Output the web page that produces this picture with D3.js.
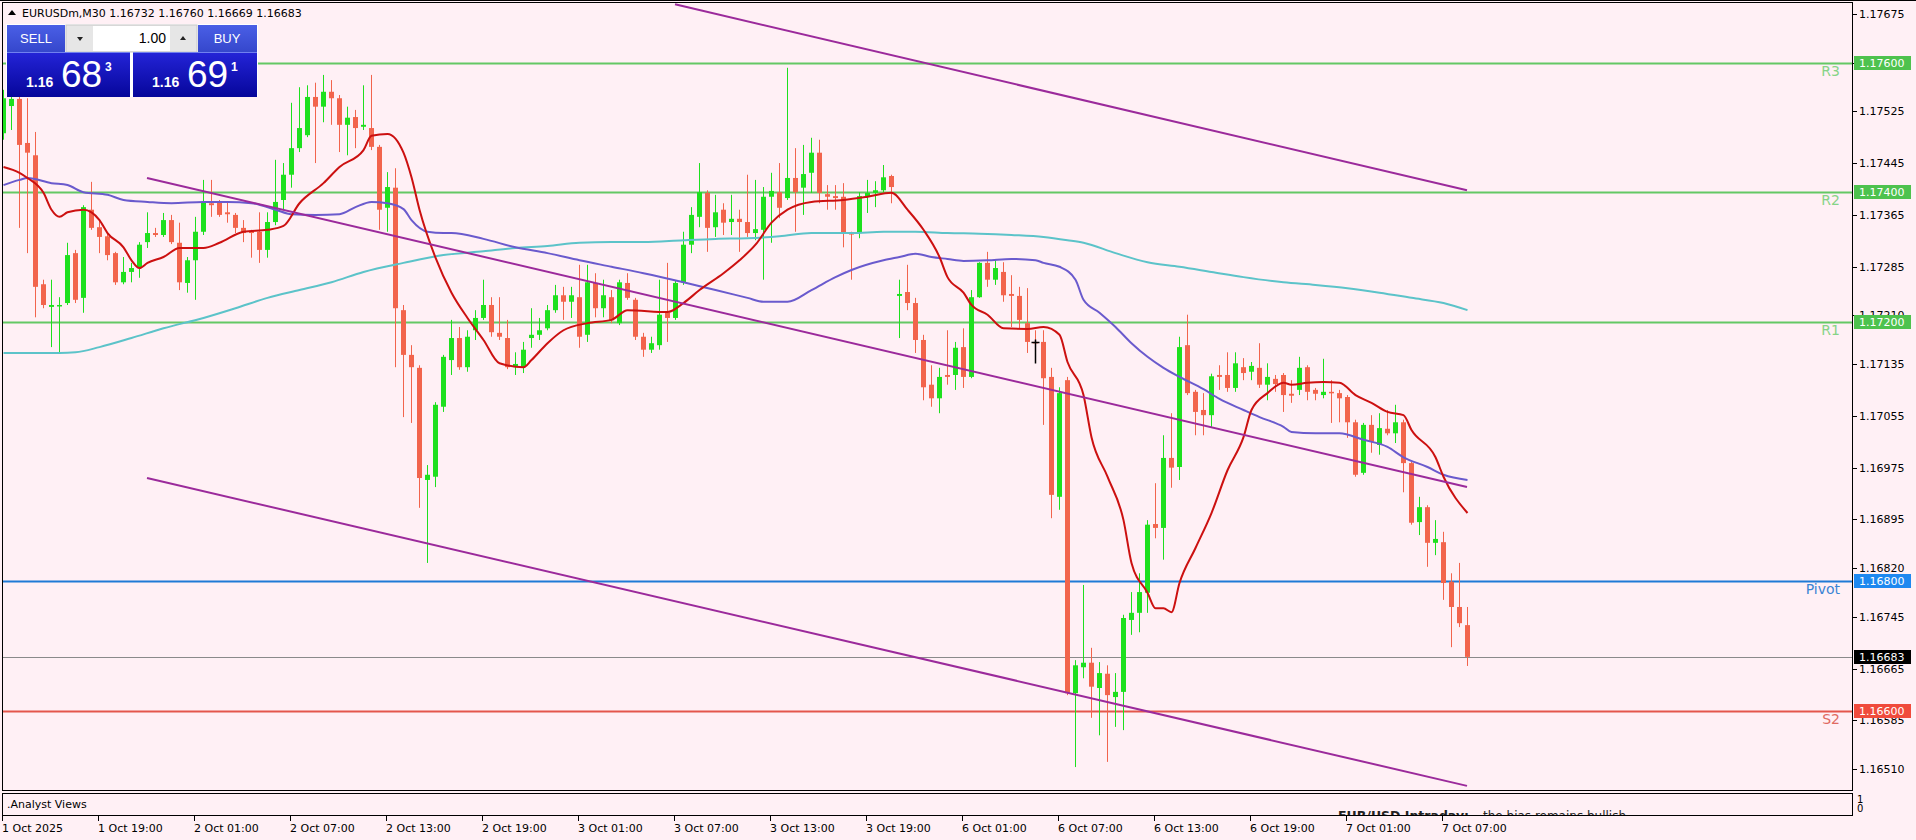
<!DOCTYPE html>
<html><head><meta charset="utf-8">
<script src="https://cdn.jsdelivr.net/npm/d3@7"></script>
<style>
html,body{margin:0;padding:0;background:#fff0f5;overflow:hidden}
svg{display:block}
</style></head><body>
<svg id="c" width="1916" height="840"></svg>
<script>
// ---------------- DATA ----------------
const symbolTitle = "EURUSDm,M30";
const lastOHLC = ["1.16732","1.16760","1.16669","1.16683"];

const open = [1.17491,1.17533,1.17544,1.17476,1.17457,1.17258,1.17223,1.17224,1.17229,1.17306,
1.17237,1.17373,1.17346,1.17332,1.17306,1.17261,1.17277,1.17283,1.17323,1.17337,
1.17334,1.17357,1.17322,1.17260,1.17295,1.17339,1.17383,1.17385,1.17369,1.17365,
1.17345,1.17340,1.17339,1.17311,1.17354,1.17388,1.17427,1.17468,1.17488,1.17547,
1.17532,1.17555,1.17545,1.17504,1.17516,1.17501,1.17499,1.17470,1.17376,1.17407,
1.17218,1.17149,1.17129,1.16956,1.16961,1.17069,1.17141,1.17175,1.17130,1.17187,
1.17206,1.17226,1.17183,1.17175,1.17130,1.17130,1.17175,1.17180,1.17190,1.17218,
1.17241,1.17231,1.17238,1.17180,1.17260,1.17221,1.17238,1.17198,1.17260,1.17234,
1.17177,1.17157,1.17164,1.17214,1.17206,1.17261,1.17319,1.17362,1.17399,1.17346,
1.17373,1.17354,1.17359,1.17354,1.17337,1.17342,1.17393,1.17400,1.17391,1.17422,
1.17407,1.17430,1.17461,1.17397,1.17394,1.17393,1.17337,1.17337,1.17393,1.17399,
1.17403,1.17425,1.17240,1.17246,1.17229,1.17172,1.17103,1.17082,1.17118,1.17118,
1.17161,1.17115,1.17238,1.17291,1.17265,1.17277,1.17243,1.17240,1.17198,1.17169,
1.17169,1.17115,1.16930,1.17110,1.16627,1.16667,1.16674,1.16635,1.16657,1.16621,
1.16629,1.16740,1.16751,1.16782,1.16888,1.16882,1.16990,1.16976,1.17164,1.17092,
1.17064,1.17056,1.17118,1.17118,1.17098,1.17130,1.17123,1.17129,1.17103,1.17112,
1.17118,1.17089,1.17095,1.17130,1.17095,1.17087,1.17092,1.17090,1.17084,1.17045,
1.16967,1.17041,1.17010,1.17035,1.17028,1.17045,1.16982,1.16891,1.16914,1.16859,
1.16860,1.16799,1.16760,1.16732];
const high = [1.17558,1.17547,1.17550,1.17545,1.17493,1.17265,1.17265,1.17238,1.17322,1.17311,
1.17380,1.17416,1.17357,1.17336,1.17308,1.17300,1.17291,1.17323,1.17369,1.17345,
1.17368,1.17365,1.17353,1.17300,1.17362,1.17419,1.17419,1.17388,1.17385,1.17368,
1.17357,1.17342,1.17369,1.17369,1.17450,1.17445,1.17538,1.17562,1.17565,1.17569,
1.17581,1.17573,1.17550,1.17532,1.17527,1.17565,1.17581,1.17473,1.17431,1.17437,
1.17226,1.17164,1.17133,1.16979,1.17076,1.17149,1.17203,1.17192,1.17187,1.17218,
1.17265,1.17238,1.17238,1.17203,1.17153,1.17169,1.17221,1.17206,1.17226,1.17257,
1.17254,1.17254,1.17288,1.17288,1.17275,1.17265,1.17249,1.17265,1.17275,1.17237,
1.17183,1.17177,1.17265,1.17291,1.17263,1.17339,1.17377,1.17445,1.17403,1.17396,
1.17383,1.17396,1.17373,1.17427,1.17419,1.17408,1.17430,1.17445,1.17592,1.17468,
1.17473,1.17484,1.17481,1.17411,1.17411,1.17414,1.17339,1.17400,1.17419,1.17417,
1.17442,1.17427,1.17265,1.17288,1.17237,1.17180,1.17133,1.17129,1.17187,1.17169,
1.17190,1.17249,1.17292,1.17308,1.17295,1.17292,1.17272,1.17254,1.17252,1.17187,
1.17187,1.17129,1.17099,1.17115,1.16678,1.16794,1.16697,1.16675,1.16670,1.16658,
1.16748,1.16783,1.16812,1.16894,1.16951,1.17025,1.17059,1.17177,1.17211,1.17095,
1.17090,1.17120,1.17133,1.17153,1.17153,1.17144,1.17138,1.17167,1.17136,1.17118,
1.17121,1.17110,1.17146,1.17133,1.17098,1.17143,1.17110,1.17095,1.17087,1.17049,
1.17044,1.17056,1.17059,1.17064,1.17072,1.17049,1.16984,1.16930,1.16917,1.16894,
1.16876,1.16812,1.16828,1.16760];
const low = [1.17481,1.17496,1.17345,1.17306,1.17207,1.17221,1.17161,1.17152,1.17226,1.17229,
1.17214,1.17342,1.17306,1.17295,1.17257,1.17258,1.17261,1.17268,1.17314,1.17331,
1.17331,1.17320,1.17249,1.17245,1.17234,1.17334,1.17362,1.17362,1.17353,1.17337,
1.17323,1.17299,1.17291,1.17299,1.17349,1.17373,1.17407,1.17462,1.17485,1.17445,
1.17508,1.17504,1.17462,1.17457,1.17468,1.17496,1.17465,1.17342,1.17339,1.17130,
1.17053,1.17044,1.16913,1.16828,1.16945,1.17061,1.17118,1.17126,1.17123,1.17172,
1.17203,1.17177,1.17172,1.17127,1.17118,1.17121,1.17160,1.17172,1.17187,1.17214,
1.17203,1.17206,1.17160,1.17169,1.17207,1.17207,1.17198,1.17195,1.17234,1.17172,
1.17146,1.17152,1.17157,1.17169,1.17203,1.17257,1.17306,1.17346,1.17308,1.17331,
1.17334,1.17334,1.17308,1.17331,1.17326,1.17265,1.17322,1.17360,1.17388,1.17339,
1.17365,1.17399,1.17383,1.17373,1.17373,1.17315,1.17265,1.17329,1.17368,1.17377,
1.17400,1.17383,1.17175,1.17218,1.17152,1.17079,1.17069,1.17059,1.17103,1.17095,
1.17098,1.17113,1.17237,1.17254,1.17257,1.17231,1.17192,1.17190,1.17152,1.17141,
1.17041,1.16897,1.16910,1.16624,1.16513,1.16650,1.16589,1.16562,1.16521,1.16575,
1.16570,1.16717,1.16721,1.16751,1.16866,1.16833,1.16944,1.16956,1.17087,1.17025,
1.17025,1.17038,1.17095,1.17092,1.17092,1.17110,1.17110,1.17098,1.17079,1.17092,
1.17061,1.17075,1.17087,1.17079,1.17079,1.17082,1.17044,1.17045,1.17021,1.16961,
1.16964,1.16998,1.16995,1.17025,1.17013,1.16937,1.16887,1.16871,1.16822,1.16840,
1.16771,1.16698,1.16729,1.16669];
const close = [1.17545,1.17544,1.17473,1.17461,1.17254,1.17226,1.17226,1.17226,1.17303,1.17234,
1.17377,1.17345,1.17331,1.17303,1.17261,1.17277,1.17283,1.17319,1.17337,1.17334,
1.17357,1.17323,1.17261,1.17295,1.17339,1.17385,1.17380,1.17365,1.17366,1.17345,
1.17337,1.17337,1.17311,1.17354,1.17385,1.17427,1.17468,1.17499,1.17547,1.17532,
1.17555,1.17545,1.17504,1.17515,1.17499,1.17504,1.17470,1.17373,1.17408,1.17221,
1.17149,1.17130,1.16959,1.16964,1.17072,1.17146,1.17175,1.17130,1.17177,1.17206,
1.17226,1.17184,1.17177,1.17130,1.17135,1.17157,1.17180,1.17187,1.17218,1.17241,
1.17231,1.17241,1.17177,1.17261,1.17221,1.17241,1.17203,1.17261,1.17237,1.17177,
1.17157,1.17167,1.17211,1.17206,1.17260,1.17319,1.17365,1.17400,1.17345,1.17369,
1.17353,1.17359,1.17354,1.17337,1.17343,1.17393,1.17402,1.17376,1.17422,1.17400,
1.17428,1.17461,1.17399,1.17393,1.17391,1.17337,1.17336,1.17394,1.17399,1.17403,
1.17423,1.17408,1.17243,1.17229,1.17172,1.17099,1.17082,1.17115,1.17115,1.17160,
1.17115,1.17238,1.17291,1.17265,1.17283,1.17241,1.17240,1.17203,1.17169,1.17167,
1.17113,1.16933,1.17090,1.16627,1.16670,1.16674,1.16637,1.16658,1.16624,1.16629,
1.16743,1.16751,1.16783,1.16887,1.16882,1.16990,1.16975,1.17161,1.17090,1.17061,
1.17056,1.17116,1.17115,1.17098,1.17136,1.17121,1.17132,1.17103,1.17115,1.17104,
1.17087,1.17086,1.17129,1.17092,1.17089,1.17092,1.17090,1.17082,1.17045,1.16964,
1.17041,1.17015,1.17036,1.17028,1.17045,1.16982,1.16890,1.16914,1.16859,1.16865,
1.16797,1.16760,1.16735,1.16683];

// moving averages: [bar index, value]
const maFast = [[0,1.17439],[2,1.17430],[3,1.17422],[5,1.17399],[6,1.17373],[7,1.17362],[8,1.17369],[10,1.17373],[11,1.17369],[12,1.17357],[13,1.17337],[15,1.17315],[16,1.17295],[17,1.17283],[18,1.17291],[20,1.17300],[22,1.17314],[25,1.17314],[27,1.17322],[30,1.17339],[33,1.17342],[35,1.17348],[37,1.17383],[40,1.17414],[42,1.17439],[45,1.17465],[46,1.17487],[48,1.17490],[50,1.17461],[51,1.17423],[52,1.17373],[54,1.17299],[56,1.17245],[58,1.17206],[60,1.17172],[62,1.17136],[65,1.17130],[66,1.17141],[68,1.17167],[70,1.17187],[73,1.17198],[76,1.17203],[78,1.17218],[83,1.17215],[85,1.17229],[87,1.17249],[90,1.17275],[92,1.17295],[94,1.17319],[96,1.17353],[98,1.17373],[101,1.17385],[105,1.17388],[108,1.17393],[111,1.17399],[113,1.17373],[115,1.17342],[117,1.17300],[118,1.17269],[120,1.17245],[121,1.17226],[123,1.17211],[125,1.17190],[128,1.17189],[130,1.17192],[132,1.17180],[133,1.17138],[135,1.17087],[136,1.17022],[138,1.16961],[140,1.16894],[141,1.16828],[143,1.16782],[144,1.16758],[145,1.16758],[146,1.16752],[147,1.16797],[149,1.16851],[151,1.16905],[153,1.16971],[155,1.17022],[156,1.17064],[158,1.17090],[160,1.17106],[161,1.17103],[163,1.17106],[165,1.17107],[167,1.17106],[169,1.17087],[171,1.17075],[173,1.17061],[175,1.17056],[176,1.17033],[179,1.16991],[180,1.16961],[183,1.16905]];
const maMid = [[0,1.17411],[2,1.17419],[3,1.17422],[6,1.17414],[8,1.17411],[10,1.17400],[13,1.17396],[15,1.17388],[18,1.17385],[21,1.17383],[25,1.17385],[28,1.17385],[31,1.17383],[34,1.17373],[36,1.17366],[39,1.17365],[42,1.17366],[44,1.17377],[46,1.17385],[48,1.17383],[50,1.17374],[51,1.17357],[53,1.17339],[55,1.17337],[56,1.17337],[60,1.17328],[64,1.17315],[68,1.17306],[72,1.17295],[76,1.17285],[80,1.17275],[85,1.17261],[89,1.17249],[93,1.17237],[95,1.17231],[98,1.17231],[101,1.17249],[104,1.17269],[106,1.17280],[110,1.17295],[112,1.17300],[114,1.17305],[116,1.17300],[118,1.17297],[120,1.17294],[123,1.17295],[126,1.17297],[129,1.17295],[130,1.17291],[132,1.17285],[134,1.17265],[135,1.17234],[137,1.17214],[139,1.17192],[141,1.17167],[143,1.17146],[145,1.17129],[147,1.17115],[150,1.17096],[152,1.17081],[155,1.17064],[157,1.17053],[160,1.17038],[161,1.17030],[164,1.17028],[167,1.17028],[170,1.17018],[173,1.17007],[175,1.16991],[178,1.16976],[180,1.16964],[183,1.16956]];
const maSlow = [[0,1.17152],[4,1.17152],[7,1.17152],[9,1.17153],[12,1.17161],[16,1.17175],[20,1.17190],[25,1.17206],[29,1.17221],[33,1.17237],[37,1.17249],[41,1.17261],[45,1.17277],[50,1.17291],[55,1.17303],[60,1.17309],[64,1.17314],[68,1.17317],[72,1.17322],[76,1.17323],[80,1.17323],[85,1.17326],[89,1.17328],[93,1.17329],[97,1.17332],[101,1.17337],[106,1.17337],[110,1.17339],[114,1.17339],[118,1.17337],[122,1.17336],[126,1.17334],[130,1.17331],[133,1.17326],[135,1.17322],[139,1.17306],[143,1.17292],[147,1.17285],[151,1.17277],[155,1.17269],[160,1.17261],[164,1.17257],[168,1.17252],[172,1.17245],[176,1.17237],[180,1.17229],[183,1.17218]];

// trend channel lines: [startIndex, startPrice, endIndex, endPrice]
const channelLines = [[84,1.17690,183,1.17403],[18,1.17422,183,1.16945],[18,1.16959,183,1.16484]];

// horizontal levels
const levelNames = ["R3","R2","R1","Pivot","S2"];
const levelPrices = [1.17600,1.17400,1.17200,1.16800,1.16600];
const currentPrice = 1.16683;

// mouse cursor position on the chart (bar index, price)
const cursorAt = [129, 1.17169];

const priceTicks = [1.17675,1.17600,1.17525,1.17445,1.17365,1.17285,1.17210,1.17135,1.17055,1.16975,1.16895,1.16820,1.16745,1.16665,1.16585,1.16510];
const timeLabels = ["1 Oct 2025","1 Oct 19:00","2 Oct 01:00","2 Oct 07:00","2 Oct 13:00","2 Oct 19:00","3 Oct 01:00","3 Oct 07:00","3 Oct 13:00","3 Oct 19:00","6 Oct 01:00","6 Oct 07:00","6 Oct 13:00","6 Oct 19:00","7 Oct 01:00","7 Oct 07:00"];
const timeLabelBars = [0,12,24,36,48,60,72,84,96,108,120,132,144,156,168,180];

const sellPrice = ["1.16","68","3"];
const buyPrice = ["1.16","69","1"];
const lotSize = "1.00";
const subTitle = ".Analyst Views";
const newsBold = "EUR/USD Intraday:";
const newsText = "the bias remains bullish.";

// ---------------- DRAW ----------------
const W = 1916, H = 840;
const plotL = 2, plotT = 2, plotR = 1852, plotB = 790;
const svg = d3.select("#c");
const FONT = "'DejaVu Sans', sans-serif";

const x = d3.scaleLinear().domain([0, 183]).range([3, 1467]);
const y = d3.scaleLinear().domain([1.17675, 1.16510]).range([14, 769]);

const defs = svg.append("defs");
defs.append("clipPath").attr("id","plotClip").append("rect")
  .attr("x",plotL+1).attr("y",plotT+1).attr("width",plotR-plotL-1).attr("height",plotB-plotT-1);
defs.append("clipPath").attr("id","subClip").append("rect")
  .attr("x",plotL+1).attr("y",794).attr("width",plotR-plotL-1).attr("height",21);

svg.append("rect").attr("width",W).attr("height",H).attr("fill","#fff0f5");

const plot = svg.append("g").attr("clip-path","url(#plotClip)");

// horizontal level lines
const levelColors = ["#64c864","#64c864","#64c864","#1f7ad6","#e4564c"];
plot.append("g").selectAll("line").data(levelPrices).join("line")
  .attr("x1",plotL).attr("x2",plotR)
  .attr("y1",d=>Math.round(y(d))+0.5).attr("y2",d=>Math.round(y(d))+0.5)
  .attr("stroke",(d,i)=>levelColors[i]).attr("stroke-width",2);
// current price line
plot.append("line").attr("x1",plotL).attr("x2",plotR)
  .attr("y1",Math.round(y(currentPrice))+0.5).attr("y2",Math.round(y(currentPrice))+0.5)
  .attr("stroke","#8a8a8a").attr("stroke-width",1);

// candles
const bull = "#1ee01e", bear = "#f2644c";
const idx = d3.range(open.length);
const cg = plot.append("g");
cg.selectAll("rect.w").data(idx).join("rect").attr("class","w")
  .attr("x",i=>x(i)).attr("width",1)
  .attr("y",i=>y(high[i])).attr("height",i=>Math.max(1,y(low[i])-y(high[i])))
  .attr("fill",i=>close[i]>=open[i]?bull:bear);
cg.selectAll("rect.b").data(idx).join("rect").attr("class","b")
  .attr("x",i=>x(i)-2).attr("width",5)
  .attr("y",i=>y(Math.max(open[i],close[i])))
  .attr("height",i=>Math.max(1.5,Math.abs(y(open[i])-y(close[i]))))
  .attr("fill",i=>close[i]>=open[i]?bull:bear);

// moving averages
const maLine = d3.line().x(d=>x(d[0])+0.5).y(d=>y(d[1])).curve(d3.curveMonotoneX);
plot.append("path").attr("d",maLine(maSlow)).attr("fill","none").attr("stroke","#5cc3c9").attr("stroke-width",2);
plot.append("path").attr("d",maLine(maMid)).attr("fill","none").attr("stroke","#6a5acd").attr("stroke-width",2);
plot.append("path").attr("d",maLine(maFast)).attr("fill","none").attr("stroke","#cc1010").attr("stroke-width",2);

// channel
plot.append("g").selectAll("line").data(channelLines).join("line")
  .attr("x1",d=>x(d[0])).attr("y1",d=>y(d[1])).attr("x2",d=>x(d[2])).attr("y2",d=>y(d[3]))
  .attr("stroke","#9b2a9b").attr("stroke-width",2);

// level text labels
const levelTextColors = ["#86d486","#86d486","#86d486","#3a84d4","#e06a62"];
plot.append("g").selectAll("text").data(levelNames).join("text")
  .attr("x",1840).attr("y",(d,i)=>Math.round(y(levelPrices[i]))+13)
  .attr("text-anchor","end").attr("font-family",FONT).attr("font-size",14)
  .attr("fill",(d,i)=>levelTextColors[i]).text(d=>d);

// mouse cursor
{
  const cx = Math.round(x(cursorAt[0])) + 0.5, cy = Math.round(y(cursorAt[1])) + 0.5;
  plot.append("line").attr("x1",cx).attr("x2",cx).attr("y1",cy-3).attr("y2",cy+21).attr("stroke","#000").attr("stroke-width",1.5);
  plot.append("line").attr("x1",cx-4).attr("x2",cx+4).attr("y1",cy).attr("y2",cy).attr("stroke","#000").attr("stroke-width",1.5);
}

// frames
svg.append("rect").attr("x",plotL+0.5).attr("y",plotT+0.5).attr("width",plotR-plotL).attr("height",plotB-plotT)
  .attr("fill","none").attr("stroke","#000").attr("stroke-width",1);
svg.append("rect").attr("x",plotL+0.5).attr("y",793.5).attr("width",plotR-plotL).attr("height",22)
  .attr("fill","none").attr("stroke","#000").attr("stroke-width",1);
svg.append("line").attr("x1",0).attr("x2",W).attr("y1",0.5).attr("y2",0.5).attr("stroke","#000");

// right price axis
const ax = svg.append("g");
ax.selectAll("line").data(priceTicks).join("line")
  .attr("x1",plotR).attr("x2",plotR+5).attr("y1",d=>Math.round(y(d))+0.5).attr("y2",d=>Math.round(y(d))+0.5)
  .attr("stroke","#000");
ax.selectAll("text").data(priceTicks).join("text")
  .attr("x",plotR+7).attr("y",d=>y(d)+4).attr("font-family",FONT).attr("font-size",11)
  .attr("fill","#000").text(d=>d.toFixed(5));

// price boxes
const boxColors = ["#4ec24e","#4ec24e","#4ec24e","#1e88f0","#f04b3c"];
const boxG = svg.append("g");
levelPrices.forEach((p,i)=>{
  const yy = Math.round(y(p));
  boxG.append("rect").attr("x",plotR+2).attr("y",yy-7).attr("width",57).attr("height",14).attr("fill",boxColors[i]);
  boxG.append("text").attr("x",plotR+7).attr("y",yy+4).attr("font-family",FONT).attr("font-size",11)
    .attr("fill","#fff").text(p.toFixed(5));
});
{
  const yy = Math.round(y(currentPrice));
  boxG.append("rect").attr("x",plotR+2).attr("y",yy-7).attr("width",57).attr("height",14).attr("fill","#000");
  boxG.append("text").attr("x",plotR+7).attr("y",yy+4).attr("font-family",FONT).attr("font-size",11)
    .attr("fill","#fff").text(currentPrice.toFixed(5));
}
// sub window axis
svg.append("text").attr("x",plotR+5).attr("y",803).attr("font-family",FONT).attr("font-size",10).text("1");
svg.append("text").attr("x",plotR+5).attr("y",812).attr("font-family",FONT).attr("font-size",10).text("0");

// time axis
const tx = svg.append("g");
tx.selectAll("line").data(timeLabelBars).join("line")
  .attr("x1",d=>x(d)-0.5).attr("x2",d=>x(d)-0.5).attr("y1",816).attr("y2",821).attr("stroke","#000");
tx.selectAll("text").data(timeLabels).join("text")
  .attr("x",(d,i)=>x(timeLabelBars[i])-1).attr("y",832).attr("font-family",FONT).attr("font-size",11)
  .attr("fill","#000").text(d=>d);

// sub window content
const sub = svg.append("g").attr("clip-path","url(#subClip)");
sub.append("text").attr("x",7).attr("y",808).attr("font-family",FONT).attr("font-size",11).text(subTitle);
sub.append("text").attr("x",1338).attr("y",820).attr("font-family",FONT).attr("font-size",12.5)
  .attr("font-weight","bold").attr("fill","#222").text(newsBold);
sub.append("text").attr("x",1483).attr("y",820).attr("font-family",FONT).attr("font-size",12)
  .attr("fill","#222").text(newsText);

// header
svg.append("path").attr("d","M8,15 L12,10 L16,15 Z").attr("fill","#000");
svg.append("text").attr("x",22).attr("y",17).attr("font-family",FONT).attr("font-size",11)
  .attr("fill","#000").text(symbolTitle + "  " + lastOHLC.join(" "));

// trade panel
const g1 = defs.append("linearGradient").attr("id","btnG").attr("x1",0).attr("y1",0).attr("x2",0).attr("y2",1);
g1.append("stop").attr("offset","0").attr("stop-color","#4a5fe6");
g1.append("stop").attr("offset","1").attr("stop-color","#3547cc");
const g2 = defs.append("linearGradient").attr("id","pxG").attr("x1",0).attr("y1",0).attr("x2",0).attr("y2",1);
g2.append("stop").attr("offset","0").attr("stop-color","#2424d8");
g2.append("stop").attr("offset","1").attr("stop-color","#06069a");
const tp = svg.append("g");
tp.append("rect").attr("x",6).attr("y",24).attr("width",252).attr("height",73).attr("fill","#fff");
tp.append("rect").attr("x",7).attr("y",25).attr("width",58).attr("height",27).attr("fill","url(#btnG)");
tp.append("rect").attr("x",198).attr("y",25).attr("width",59).attr("height",27).attr("fill","url(#btnG)");
tp.append("rect").attr("x",66).attr("y",25).attr("width",131).attr("height",27).attr("fill","#e6e6e6").attr("stroke","#c8c8c8");
tp.append("rect").attr("x",93).attr("y",26).attr("width",77).attr("height",25).attr("fill","#fff");
tp.append("path").attr("d","M77,37 L83,37 L80,41 Z").attr("fill","#222");
tp.append("path").attr("d","M180,40 L186,40 L183,36 Z").attr("fill","#222");
tp.append("text").attr("x",166).attr("y",43).attr("text-anchor","end").attr("font-family","'Liberation Sans', sans-serif").attr("font-size",14).text(lotSize);
tp.append("text").attr("x",36).attr("y",43).attr("text-anchor","middle").attr("font-family","'Liberation Sans', sans-serif").attr("font-size",13).attr("fill","#fff").text("SELL");
tp.append("text").attr("x",227).attr("y",43).attr("text-anchor","middle").attr("font-family","'Liberation Sans', sans-serif").attr("font-size",13).attr("fill","#fff").text("BUY");
tp.append("rect").attr("x",7).attr("y",52).attr("width",123).attr("height",45).attr("fill","url(#pxG)");
tp.append("rect").attr("x",133).attr("y",52).attr("width",124).attr("height",45).attr("fill","url(#pxG)");
tp.append("line").attr("x1",7).attr("x2",130).attr("y1",52.5).attr("y2",52.5).attr("stroke","#7080f0");
tp.append("line").attr("x1",133).attr("x2",257).attr("y1",52.5).attr("y2",52.5).attr("stroke","#7080f0");
function priceBox(x0, parts){
  tp.append("text").attr("x",x0).attr("y",87).attr("font-family","'Liberation Sans', sans-serif").attr("font-weight","bold").attr("font-size",14).attr("fill","#fff").text(parts[0]);
  tp.append("text").attr("x",x0+35).attr("y",87).attr("font-family","'Liberation Sans', sans-serif").attr("font-size",37).attr("fill","#fff").text(parts[1]);
  tp.append("text").attr("x",x0+79).attr("y",71).attr("font-family","'Liberation Sans', sans-serif").attr("font-weight","bold").attr("font-size",12).attr("fill","#fff").text(parts[2]);
}
priceBox(26, sellPrice);
priceBox(152, buyPrice);
</script>
</body></html>
